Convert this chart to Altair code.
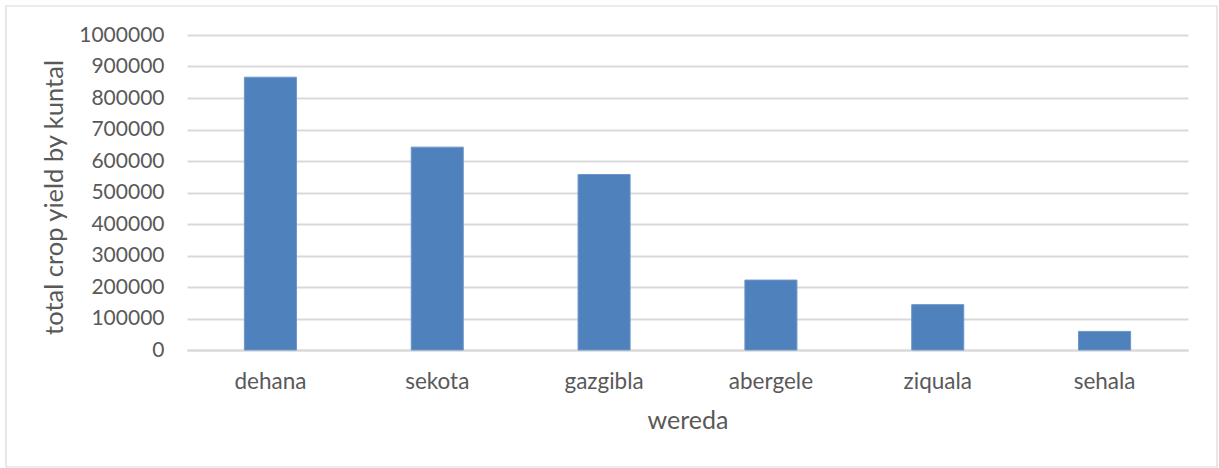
import altair as alt
import pandas as pd

# data
weredas = ["dehana", "sekota", "gazgibla", "abergele", "ziquala", "sehala"]
yields = [866000, 644000, 557000, 222000, 144000, 59000]
y_ticks = [0, 100000, 200000, 300000, 400000, 500000, 600000, 700000, 800000, 900000, 1000000]

df = pd.DataFrame({"wereda": weredas, "yield": yields})

FONT = "Lato"
GRAY = "#595959"

bars = alt.Chart(df).mark_bar(
    color="#4f81bd", stroke="#6c96c9", strokeWidth=1
).encode(
    x=alt.X(
        "wereda:N",
        sort=weredas,
        scale=alt.Scale(paddingInner=0.688, paddingOuter=0.344),
        axis=alt.Axis(
            title="wereda",
            labelAngle=0,
            labelFont=FONT, labelFontSize=22.5, labelColor=GRAY,
            labelBaseline="alphabetic", labelPadding=38,
            ticks=False, tickSize=0,
            domain=True, domainColor="#d9d9d9", domainWidth=1.8,
            titleFont=FONT, titleFontSize=25, titleColor=GRAY, titleFontWeight="normal",
            titleBaseline="alphabetic", titleY=78,
        ),
    ),
    y=alt.Y(
        "yield:Q",
        scale=alt.Scale(domain=[0, 1000000], nice=False),
        axis=alt.Axis(
            title="total crop yield by kuntal",
            values=y_ticks, format="d",
            labelFont=FONT, labelFontSize=21, labelColor=GRAY,
            labelPadding=23, ticks=False, tickSize=0, domain=False,
            grid=True, gridColor="#d9d9d9", gridWidth=1.8,
            titleFont=FONT, titleFontSize=25.5, titleColor=GRAY, titleFontWeight="normal",
            titleAngle=270, titleAlign="center", titleBaseline="alphabetic",
            titleX=-125, titleY=162,
        ),
    ),
)

frame = alt.Chart(pd.DataFrame({"a": [0]})).mark_rect(
    fill=None, stroke="#d9d9d9", strokeWidth=1.2
).encode(
    x=alt.value(-181), x2=alt.value(1030),
    y=alt.value(-29), y2=alt.value(432),
)

chart = alt.layer(frame, bars).properties(
    width=1001,
    height=315,
    autosize=alt.AutoSizeParams(type="none"),
    padding={"left": 187, "top": 35, "right": 31, "bottom": 118},
    background="white",
).configure_view(stroke=None)

chart.save("out.html", embed_options={"renderer": "svg", "actions": False})
